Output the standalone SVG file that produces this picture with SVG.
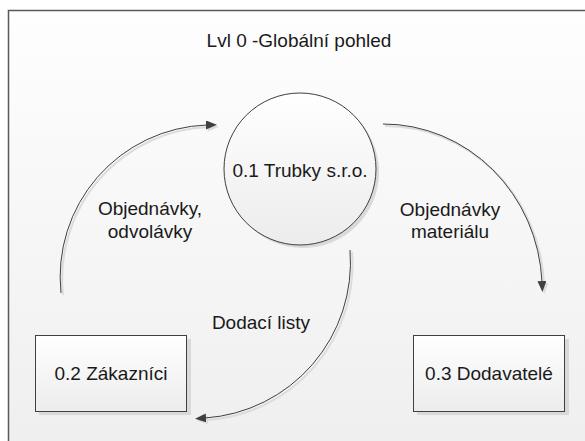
<svg xmlns="http://www.w3.org/2000/svg" width="585" height="441" viewBox="0 0 585 441">
  <style>
    .lbl { font-family: "Liberation Sans", Arial, sans-serif; font-size: 19px; fill: #1a1a1a; text-anchor: middle; }
    .node { stroke: #404040; stroke-width: 1; fill: url(#nodeFill); }
    .shadow { fill: #d9d9d9; }
    .flow { fill: none; stroke: #404040; stroke-width: 1; }
    .flow-shadow { fill: none; stroke: #dcdcdc; stroke-width: 2; }
  </style>
  <defs>
    <linearGradient id="bg" x1="0" y1="0" x2="0" y2="1">
      <stop offset="0" stop-color="#fefefe"/>
      <stop offset="1" stop-color="#eeeeee"/>
    </linearGradient>
    <linearGradient id="nodeFill" x1="0" y1="0" x2="0" y2="1">
      <stop offset="0" stop-color="#ffffff"/>
      <stop offset="1" stop-color="#ececec"/>
    </linearGradient>
    <marker id="head" markerWidth="11" markerHeight="9" refX="1" refY="4.5" orient="auto" markerUnits="userSpaceOnUse">
      <path d="M0,0 L11,4.5 L0,9 z" fill="#404040"/>
    </marker>
    <marker id="headShadow" markerWidth="11" markerHeight="9" refX="1" refY="4.5" orient="auto" markerUnits="userSpaceOnUse">
      <path d="M0,0 L11,4.5 L0,9 z" fill="#dcdcdc"/>
    </marker>
  </defs>

  <!-- page frame -->
  <rect x="0" y="0" width="585" height="441" fill="#ffffff"/>
  <rect x="8.5" y="10.5" width="600" height="460" fill="url(#bg)" stroke="#595959" stroke-width="1.5"/>

  <text class="lbl" x="299" y="47">Lvl 0 -Globální pohled</text>

  <!-- data flows -->
  <g id="connectors">
    <g transform="translate(2,2)">
      <path class="flow-shadow" d="M61,293 A152,152 0 0 1 207,125" marker-end="url(#headShadow)"/>
      <path class="flow-shadow" d="M383,124 A159,166 0 0 1 542,282" marker-end="url(#headShadow)"/>
      <path class="flow-shadow" d="M350,250 A156,156 0 0 1 205,418" marker-end="url(#headShadow)"/>
    </g>
    <path id="flow-orders" class="flow" d="M61,293 A152,152 0 0 1 207,125" marker-end="url(#head)"/>
    <path id="flow-material" class="flow" d="M383,124 A159,166 0 0 1 542,282" marker-end="url(#head)"/>
    <path id="flow-delivery" class="flow" d="M350,250 A156,156 0 0 1 205,418" marker-end="url(#head)"/>
    <text class="lbl" x="150" y="215">Objednávky,</text>
    <text class="lbl" x="150" y="238">odvolávky</text>
    <text class="lbl" x="450" y="216">Objednávky</text>
    <text class="lbl" x="450" y="238">materiálu</text>
    <text class="lbl" x="261" y="329">Dodací listy</text>
  </g>

  <!-- process -->
  <g id="node-trubky">
    <circle class="shadow" cx="303" cy="172" r="76"/>
    <circle class="node" cx="300" cy="169" r="76"/>
    <text class="lbl" x="300" y="177">0.1 Trubky s.r.o.</text>
  </g>

  <!-- external entities -->
  <g id="node-zakaznici">
    <rect class="shadow" x="39" y="339" width="152" height="76"/>
    <rect class="node" x="35.5" y="335.5" width="151" height="76"/>
    <text class="lbl" x="111" y="380">0.2 Zákazníci</text>
  </g>
  <g id="node-dodavatele">
    <rect class="shadow" x="417" y="339" width="152" height="76"/>
    <rect class="node" x="413.5" y="335.5" width="151" height="76"/>
    <text class="lbl" x="489" y="380">0.3 Dodavatelé</text>
  </g>
</svg>
